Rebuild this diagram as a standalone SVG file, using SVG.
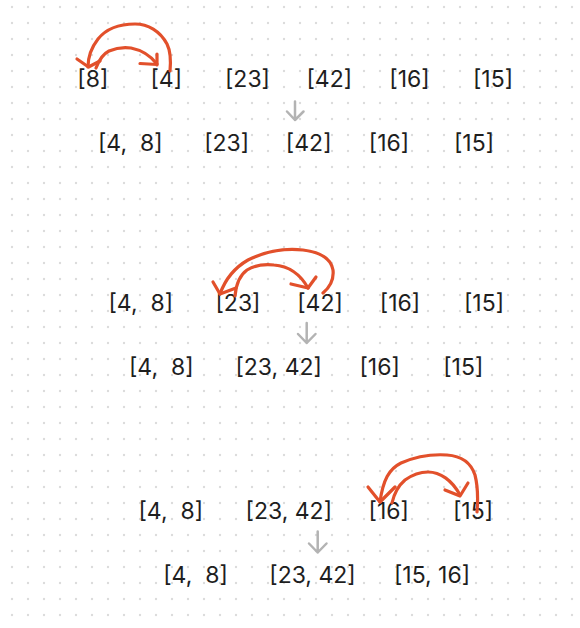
<svg xmlns="http://www.w3.org/2000/svg" width="580" height="628" viewBox="0 0 580 628">
<defs>
<pattern id="dots" x="4" y="-1" width="16" height="16" patternUnits="userSpaceOnUse">
<circle cx="8" cy="8" r="1.2" fill="#dcdcdc"/>
</pattern>
<style>
.t{font-family:Inter,"Liberation Sans",sans-serif;font-size:23px;fill:#1e1e1e;text-anchor:middle;white-space:pre}
.g{fill:none;stroke:#b3b3b3;stroke-width:2.5;stroke-linecap:round;stroke-linejoin:round}
.r{fill:none;stroke:#e2502b;stroke-width:3.2;stroke-linecap:round;stroke-linejoin:round}
</style>
</defs>
<rect width="580" height="628" fill="#ffffff"/>
<rect width="580" height="628" fill="url(#dots)"/>

<g id="row1">
<g id="n1a"><text class="t" x="92.8" y="87">[8]</text></g>
<g id="n1b"><text class="t" x="166.3" y="87">[4]</text></g>
<g id="n1c"><text class="t" x="247.5" y="87">[23]</text></g>
<g id="n1d"><text class="t" x="329.3" y="87">[42]</text></g>
<g id="n1e"><text class="t" x="409.5" y="87">[16]</text></g>
<g id="n1f"><text class="t" x="493" y="87">[15]</text></g>
</g>
<g id="row2">
<g id="n2a"><text class="t" x="130.3" y="151">[4,  8]</text></g>
<g id="n2b"><text class="t" x="226.7" y="151">[23]</text></g>
<g id="n2c"><text class="t" x="308.7" y="151">[42]</text></g>
<g id="n2d"><text class="t" x="389" y="151">[16]</text></g>
<g id="n2e"><text class="t" x="474" y="151">[15]</text></g>
</g>
<g id="row3">
<g id="n3a"><text class="t" x="140.8" y="311">[4,  8]</text></g>
<g id="n3b"><text class="t" x="238" y="311">[23]</text></g>
<g id="n3c"><text class="t" x="320" y="311">[42]</text></g>
<g id="n3d"><text class="t" x="400" y="311">[16]</text></g>
<g id="n3e"><text class="t" x="484" y="311">[15]</text></g>
</g>
<g id="row4">
<g id="n4a"><text class="t" x="161.3" y="375">[4,  8]</text></g>
<g id="n4b"><text class="t" x="278.7" y="375">[23, 42]</text></g>
<g id="n4c"><text class="t" x="379.7" y="375">[16]</text></g>
<g id="n4d"><text class="t" x="463.3" y="375">[15]</text></g>
</g>
<g id="row5">
<g id="n5a"><text class="t" x="170.8" y="519">[4,  8]</text></g>
<g id="n5b"><text class="t" x="288.8" y="519">[23, 42]</text></g>
<g id="n5c"><text class="t" x="388.8" y="519">[16]</text></g>
<g id="n5d"><text class="t" x="473" y="519">[15]</text></g>
</g>
<g id="row6">
<g id="n6a"><text class="t" x="195.5" y="583">[4,  8]</text></g>
<g id="n6b"><text class="t" x="312.5" y="583">[23, 42]</text></g>
<g id="n6c"><text class="t" x="432" y="583">[15, 16]</text></g>
</g>

<g id="connectors">
<path class="g" d="M295 101.5V120M287 111.5L295 120L303.5 111.5"/>
<path class="g" d="M306.7 323V343M298 334L306.7 343L315.5 334"/>
<path class="g" d="M317.7 531.5V552.5M309 543.5L317.7 552.5L326.5 543.5"/>

<path class="r" d="M170 71C171 60 170 50 167 44C160 31 148 24 135 24C120 24 106 29 98 39C91 48 88 58 88 67"/>
<path class="r" d="M77 59L88.5 67L100 61"/>
<path class="r" d="M96 68C99 60 103 54 109 51C116 48 124 47 131 48C141 50 150 55 157 64"/>
<path class="r" d="M140 63.5L157 64.5M157 54L157 65"/>

<path class="r" d="M323 293C330 287 334 279 333 270C331 259 320 252 303 250C284 248 264 252 248 260C234 268 225 280 220 294"/>
<path class="r" d="M213 282L220 294L236 288"/>
<path class="r" d="M235 296C236 285 240 275 247 270C255 265 264 264 274 265C288 266 299 272 308 288"/>
<path class="r" d="M291 284L308 288L316 277"/>

<path class="r" d="M477 512C478 500 478 487 475 475C471 463 462 456 447 455C432 454 417 456 401 463C389 469 383 480 380 502"/>
<path class="r" d="M368 487L380 502L395 487"/>
<path class="r" d="M392 503C394 494 398 486 405 480C412 475 419 472 428 472C440 472 452 480 460 495"/>
<path class="r" d="M445 490L460 496L468 483"/>
</g>
</svg>
